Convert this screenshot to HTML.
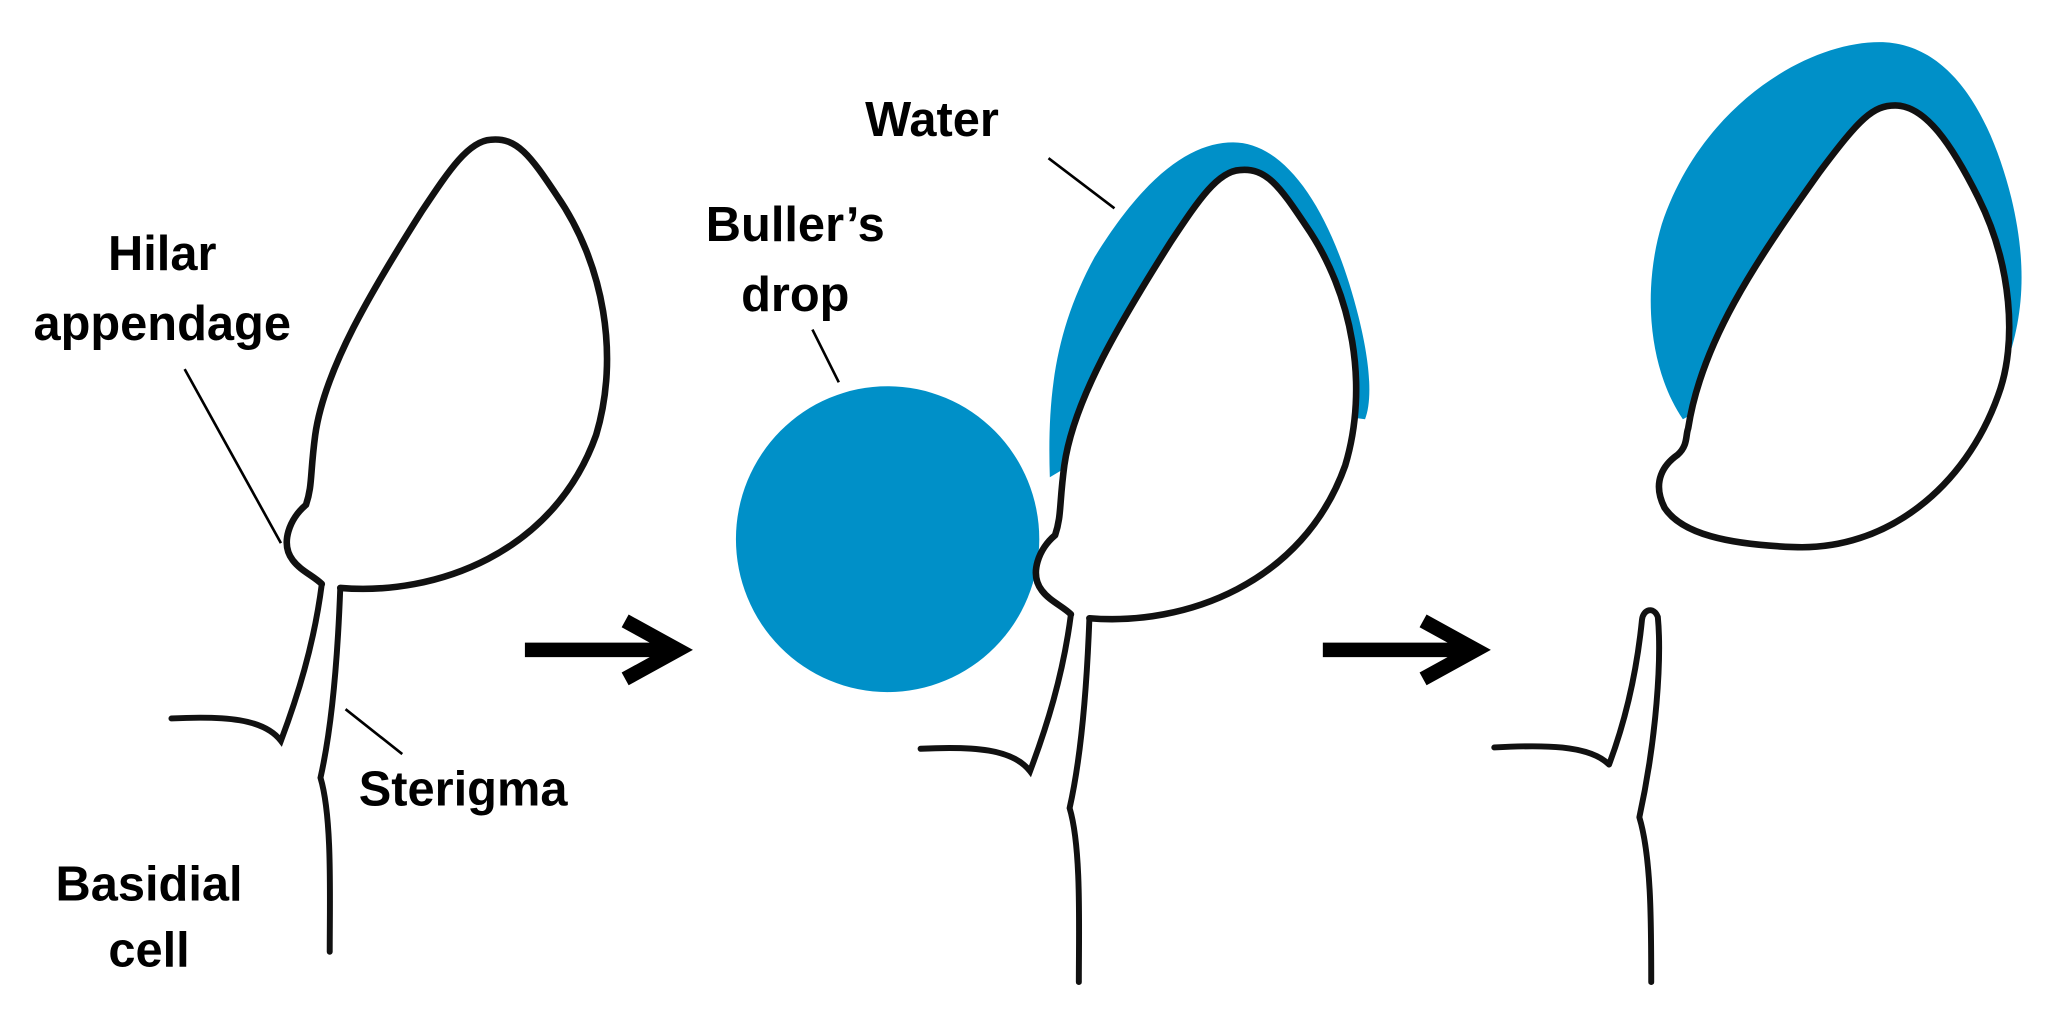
<!DOCTYPE html>
<html><head><meta charset="utf-8"><style>
html,body{margin:0;padding:0;background:#fff;}
svg{display:block}
text{font-family:"Liberation Sans",Arial,sans-serif;font-weight:bold;font-size:37px;fill:#000}
</style></head><body>
<svg width="2068" height="1019" viewBox="0 0 1568 773" preserveAspectRatio="none" xmlns="http://www.w3.org/2000/svg">
<rect width="1568" height="773" fill="#fff"/>
<defs>
<path id="spore" d="M258,446 C330,452 420,420 452,330 C470,270 458,200 422,148 C402,118 392,104 372,106 C355,107 340,130 320,160 C282,220 246,280 239,330 C235,360 237,368 232,383 C220,393 212,412 222,425 C228,433 238,437 244,443" fill="#fff" stroke="#111" stroke-width="5" stroke-linejoin="round" stroke-linecap="round"/>
<path id="stalk" d="M244,443 C238,490 225,530 213,562 C200,545 170,543 130,545 M258,446 C256,500 252,550 243,590 C252,620 250,680 250,722" fill="none" stroke="#111" stroke-width="4.5" stroke-linecap="round"/>
<path id="arrow" d="M0,0 L112,0 M76,-22 L116,0 L76,22" fill="none" stroke="#000" stroke-width="11" stroke-linejoin="miter" stroke-linecap="butt"/>
</defs>

<!-- Panel 1 -->
<use href="#spore"/>
<use href="#stalk"/>
<text x="123" y="205" text-anchor="middle">Hilar</text>
<text x="123" y="258" text-anchor="middle">appendage</text>
<line x1="140" y1="280" x2="213" y2="412" stroke="#000" stroke-width="2"/>
<text x="272" y="611">Sterigma</text>
<line x1="262" y1="538" x2="305" y2="572" stroke="#000" stroke-width="2"/>
<text x="113" y="683" text-anchor="middle">Basidial</text>
<text x="113" y="733" text-anchor="middle">cell</text>

<use href="#arrow" transform="translate(398,493)"/>

<!-- Panel 2 -->
<ellipse cx="673" cy="409" rx="115" ry="116" fill="#0090c8"/>
<text x="603" y="183" text-anchor="middle">Buller’s</text>
<text x="603" y="236" text-anchor="middle">drop</text>
<line x1="616" y1="250" x2="636" y2="290" stroke="#000" stroke-width="2"/>
<text x="656" y="103">Water</text>
<line x1="795" y1="120" x2="845" y2="158" stroke="#000" stroke-width="2"/>
<path d="M796,362 C794,300 800,250 830,195 C870,130 905,108 935,108 C975,108 1010,160 1030,240 C1040,280 1040,305 1035,318 L900,300 Z" fill="#0090c8"/>
<g transform="translate(568,23)">
<use href="#spore"/>
<use href="#stalk"/>
</g>

<use href="#arrow" transform="translate(1003,493)"/>

<!-- Panel 3 -->
<path d="M1276,318 C1250,280 1245,220 1260,170 C1290,80 1370,32 1425,32 C1480,32 1510,90 1525,150 C1537,200 1535,240 1520,280 L1400,250 Z" fill="#0090c8"/>
<path d="M1280,325 C1290,260 1330,200 1380,130 C1410,90 1420,80 1437,80 C1460,80 1480,110 1500,150 C1525,200 1530,260 1515,300 C1490,370 1430,418 1360,415 C1310,413 1275,405 1262,385 C1252,365 1262,352 1272,345 C1280,338 1278,330 1280,325 Z" fill="#fff" stroke="#111" stroke-width="5" stroke-linejoin="round"/>
<path d="M1220,580 C1235,540 1242,500 1245,470 C1246,462 1254,460 1257,468 C1260,500 1256,560 1243,620 C1252,650 1252,700 1252,745 M1220,580 C1205,565 1170,565 1133,567" fill="none" stroke="#111" stroke-width="4.5" stroke-linecap="round" stroke-linejoin="round"/>
</svg>
</body></html>
